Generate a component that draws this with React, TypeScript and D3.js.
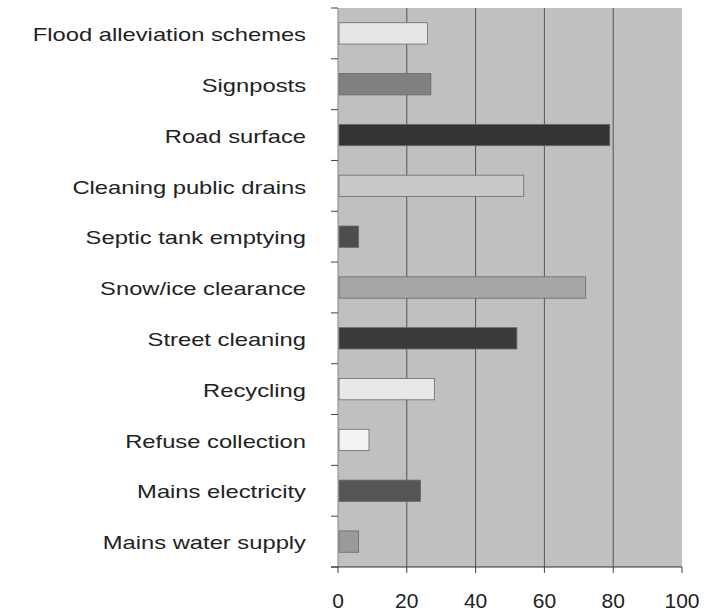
import React from "react";
import * as d3 from "d3";

const categories = [
  "Flood alleviation schemes",
  "Signposts",
  "Road surface",
  "Cleaning public drains",
  "Septic tank emptying",
  "Snow/ice clearance",
  "Street cleaning",
  "Recycling",
  "Refuse collection",
  "Mains electricity",
  "Mains water supply",
];
const values = [26, 27, 79, 54, 6, 72, 52, 28, 9, 24, 6];
const barColors = [
  "#e6e6e6", "#808080", "#333333", "#c9c9c9", "#4d4d4d", "#a6a6a6",
  "#3a3a3a", "#e8e8e8", "#f2f2f2", "#555555", "#9a9a9a",
];
const xTicks = [0, 20, 40, 60, 80, 100];

const W = 714;
const H = 614;
const plotLeft = 338;
const plotRight = 682;
const plotTop = 8;
const plotBottom = 567;

export default function App() {
  const x = d3.scaleLinear().domain([0, 100]).range([plotLeft, plotRight]);
  const y = d3
    .scaleBand<string>()
    .domain(categories)
    .range([plotTop, plotBottom])
    .paddingInner(0.58)
    .paddingOuter(0.29);
  const step = y.step();
  const font = "'Liberation Sans', Arial, sans-serif";
  return (
    <svg
      width={W}
      height={H}
      style={{ position: "absolute", left: 0, top: 0, background: "#fff" }}
    >
      <rect
        x={plotLeft}
        y={plotTop}
        width={plotRight - plotLeft}
        height={plotBottom - plotTop}
        fill="#c0c0c0"
      />
      {xTicks.slice(1, -1).map((t) => (
        <line
          key={"g" + t}
          x1={x(t)}
          x2={x(t)}
          y1={plotTop}
          y2={plotBottom}
          stroke="#555"
          strokeWidth={1}
        />
      ))}
      {categories.map((c, i) => (
        <rect
          key={c}
          x={x(0) + 1}
          y={y(c)!}
          width={x(values[i]) - x(0) - 1}
          height={y.bandwidth()}
          fill={barColors[i]}
          stroke="#6a6a6a"
          strokeWidth={0.8}
        />
      ))}
      <line x1={plotLeft} x2={plotLeft} y1={plotTop} y2={plotBottom} stroke="#888" />
      {d3.range(categories.length + 1).map((i) => (
        <line
          key={"yt" + i}
          x1={plotLeft - 7}
          x2={plotLeft}
          y1={plotTop + i * step}
          y2={plotTop + i * step}
          stroke="#444"
        />
      ))}
      <line x1={plotLeft - 7} x2={plotRight} y1={plotBottom} y2={plotBottom} stroke="#333" strokeWidth={1.2} />
      {xTicks.map((t) => (
        <line
          key={"xt" + t}
          x1={x(t)}
          x2={x(t)}
          y1={plotBottom}
          y2={plotBottom + 6}
          stroke="#444"
        />
      ))}
      {xTicks.map((t) => (
        <text
          key={"xl" + t}
          x={x(t)}
          y={608}
          textAnchor="middle"
          fontFamily={font}
          fontSize={21}
          fill="#222"
        >
          {t}
        </text>
      ))}
      {categories.map((c) => (
        <text
          key={"yl" + c}
          transform={`translate(306,${y(c)! + y.bandwidth() / 2 + 1}) scale(1.25,1)`}
          dy="0.35em"
          textAnchor="end"
          fontFamily={font}
          fontSize={19}
          fill="#222"
        >
          {c}
        </text>
      ))}
    </svg>
  );
}
